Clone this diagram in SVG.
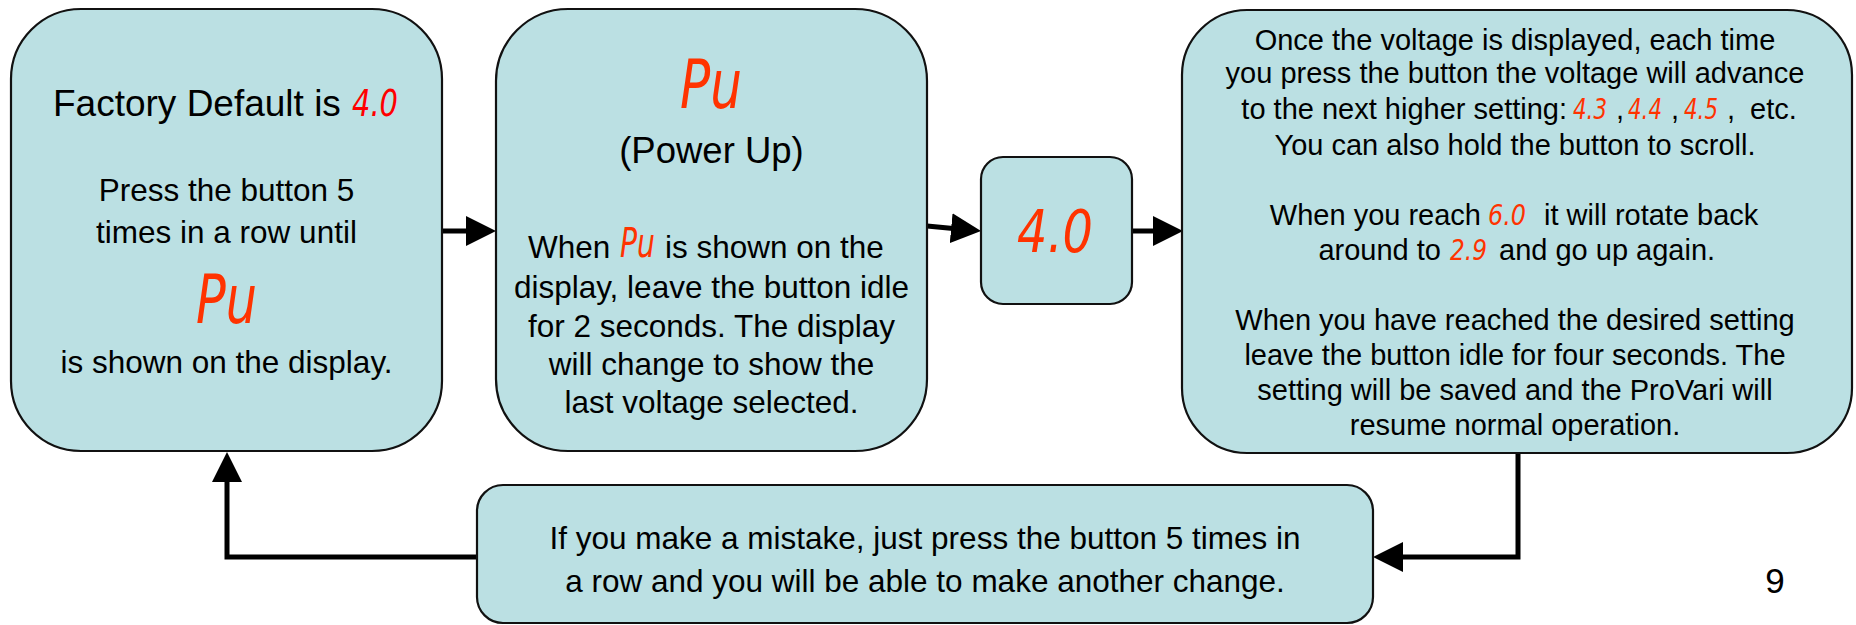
<svg xmlns="http://www.w3.org/2000/svg" width="1856" height="625" viewBox="0 0 1856 625">
<style>
.box{fill:#bbe0e3;stroke:#111;stroke-width:2.2}
.t{font-family:"Liberation Sans",Arial,sans-serif;fill:#000}
.c{text-anchor:middle}
.b{font-size:31.5px}
.h{font-size:36.5px}
.s{font-size:29px}
.seg{font-family:"DejaVu Sans",sans-serif;font-style:oblique;fill:#ff3300}
.conn{fill:none;stroke:#000;stroke-width:5}
</style>
<defs>
<marker id="ah" markerUnits="userSpaceOnUse" markerWidth="30" markerHeight="30" refX="10" refY="15" orient="auto" viewBox="0 0 30 30">
<path d="M0,0 L30,15 L0,30 Z" fill="#000"/>
</marker>
</defs>
<rect width="1856" height="625" fill="#fff"/>

<g id="connectors">
<path class="conn" d="M442,231 H476" marker-end="url(#ah)"/>
<path class="conn" d="M927,226 L961.1,229.2" marker-end="url(#ah)"/>
<path class="conn" d="M1132,231 H1163" marker-end="url(#ah)"/>
<path class="conn" d="M1518,453 V557 H1393" marker-end="url(#ah)"/>
<path class="conn" d="M477,557 H227 V472" marker-end="url(#ah)"/>
</g>

<g id="node-factory">
<rect class="box" x="11" y="9" width="431" height="442" rx="70"/>
<text class="t" x="53" y="116" font-size="37">Factory Default is</text>
<text class="seg" x="352" y="116" font-size="37" textLength="46" lengthAdjust="spacingAndGlyphs" style="fill:#ff0000">4.0</text>
<text class="t b c" x="226.5" y="201">Press the button 5</text>
<text class="t b c" x="226.5" y="243">times in a row until</text>
<text class="seg" x="196" y="323" font-size="68" textLength="61" lengthAdjust="spacingAndGlyphs">Pu</text>
<text class="t b c" x="226.5" y="373">is shown on the display.</text>
</g>

<g id="node-powerup">
<rect class="box" x="496" y="9" width="431" height="442" rx="72"/>
<text class="seg" x="680" y="108" font-size="68" textLength="62" lengthAdjust="spacingAndGlyphs">Pu</text>
<text class="t h c" x="711.5" y="163">(Power Up)</text>
<text class="t b" x="528" y="258">When</text>
<text class="seg" x="620" y="257" font-size="40" textLength="35" lengthAdjust="spacingAndGlyphs">Pu</text>
<text class="t b" x="665" y="258">is shown on the</text>
<text class="t b c" x="711.5" y="298">display, leave the button idle</text>
<text class="t b c" x="711.5" y="337">for 2 seconds. The display</text>
<text class="t b c" x="711.5" y="375">will change to show the</text>
<text class="t b c" x="711.5" y="413">last voltage selected.</text>
</g>

<g id="node-voltage">
<rect class="box" x="981" y="157" width="151" height="147" rx="22"/>
<text class="seg" x="1017" y="252" font-size="59" textLength="76" lengthAdjust="spacingAndGlyphs">4.0</text>
</g>

<g id="node-adjust">
<rect class="box" x="1182" y="10" width="670" height="443" rx="65"/>
<text class="t s c" x="1515" y="50">Once the voltage is displayed, each time</text>
<text class="t s c" x="1515" y="83">you press the button the voltage will advance</text>
<text class="t s" x="1567" y="119" text-anchor="end">to the next higher setting:</text>
<text class="seg" x="1573" y="119" font-size="29" textLength="34" lengthAdjust="spacingAndGlyphs">4.3</text>
<text class="t s" x="1616" y="119">,</text>
<text class="seg" x="1628" y="119" font-size="29" textLength="34" lengthAdjust="spacingAndGlyphs">4.4</text>
<text class="t s" x="1671" y="119">,</text>
<text class="seg" x="1684" y="119" font-size="29" textLength="34" lengthAdjust="spacingAndGlyphs">4.5</text>
<text class="t s" x="1727" y="119">,</text>
<text class="t s" x="1750" y="119">etc.</text>
<text class="t s c" x="1515" y="155">You can also hold the button to scroll.</text>
<text class="t s" x="1481" y="225" text-anchor="end">When you reach</text>
<text class="seg" x="1488" y="225" font-size="29" textLength="38" lengthAdjust="spacingAndGlyphs">6.0</text>
<text class="t s" x="1544" y="225">it will rotate back</text>
<text class="t s" x="1441" y="260" text-anchor="end">around to</text>
<text class="seg" x="1450" y="260" font-size="29" textLength="37" lengthAdjust="spacingAndGlyphs">2.9</text>
<text class="t s" x="1499" y="260">and go up again.</text>
<text class="t s c" x="1515" y="330">When you have reached the desired setting</text>
<text class="t s c" x="1515" y="365">leave the button idle for four seconds. The</text>
<text class="t s c" x="1515" y="400">setting will be saved and the ProVari will</text>
<text class="t s c" x="1515" y="435">resume normal operation.</text>
</g>

<g id="node-mistake">
<rect class="box" x="477" y="485" width="896" height="138" rx="26"/>
<text class="t b c" x="925" y="549">If you make a mistake, just press the button 5 times in</text>
<text class="t b c" x="925" y="592">a row and you will be able to make another change.</text>
</g>

<text class="t c" x="1775" y="593" font-size="35">9</text>
</svg>
